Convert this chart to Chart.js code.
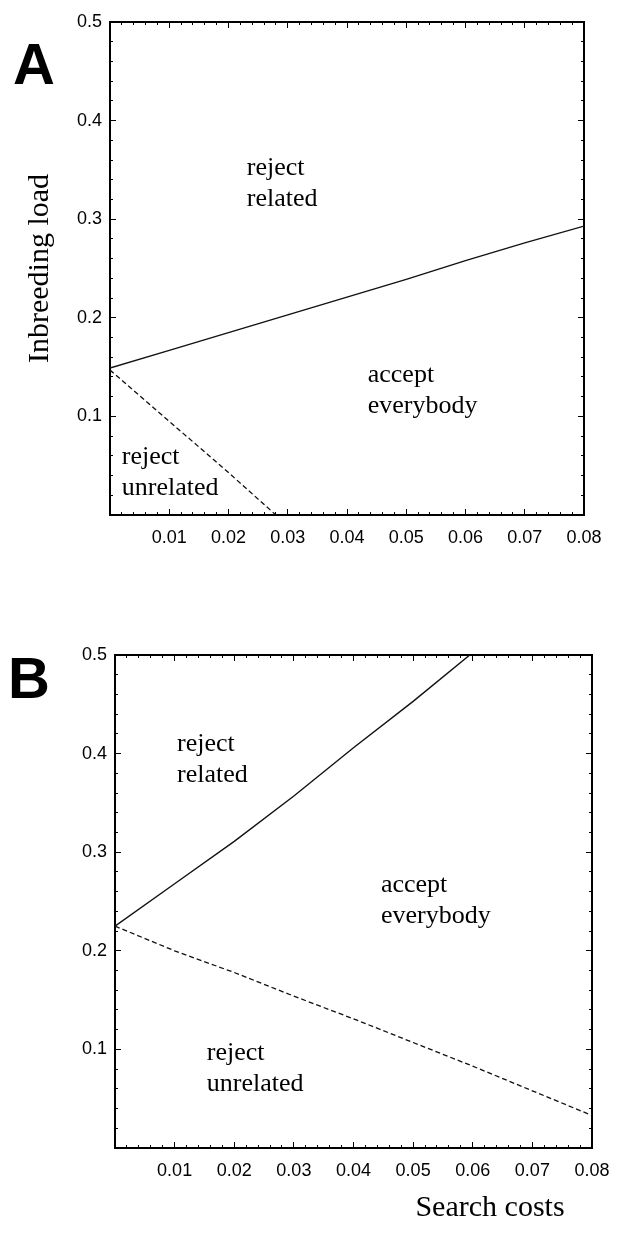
<!DOCTYPE html>
<html>
<head>
<meta charset="utf-8">
<script src="https://cdn.jsdelivr.net/npm/chart.js@4.4.1/dist/chart.umd.min.js"></script>
<style>
  html, body { margin: 0; padding: 0; background: #fff; }
  #page { position: relative; width: 618px; height: 1243px; overflow: hidden; }
  .panel { position: absolute; left: 0; width: 618px; }
  .letter { position: absolute; font: bold 58px "Liberation Sans", Arial, sans-serif; line-height: 1; color: #000; }
</style>
</head>
<body>
<div id="page">
  <div class="panel" style="top:0;height:600px"><canvas id="chartA"></canvas></div>
  <div class="panel" style="top:600px;height:643px"><canvas id="chartB"></canvas></div>
  <div class="letter" style="left:13px;top:35px">A</div>
  <div class="letter" style="left:8px;top:649px">B</div>
</div>
<script>
// search costs on the x axis
const searchCosts = [0, 0.01, 0.02, 0.03, 0.04, 0.05, 0.06, 0.07, 0.08];

// panel A: boundary reject related / accept everybody
const loadA_upper = [0.149, 0.167, 0.185, 0.203, 0.221, 0.239, 0.258, 0.276, 0.293];
// panel A: boundary reject unrelated / accept everybody
const costsA_lower = [0, 0.01, 0.02, 0.028];
const loadA_lower = [0.147, 0.095, 0.043, 0];

// panel B
const costsB_upper = [0, 0.01, 0.02, 0.03, 0.04, 0.05, 0.0595];
const loadB_upper = [0.225, 0.268, 0.311, 0.357, 0.406, 0.453, 0.5];
const loadB_lower = [0.225, 0.200, 0.178, 0.154, 0.131, 0.107, 0.083, 0.058, 0.033];

// tick labels
const xTickValues = [0.01, 0.02, 0.03, 0.04, 0.05, 0.06, 0.07, 0.08];
const yTickValues = [0.1, 0.2, 0.3, 0.4, 0.5];

const toPoints = (xs, ys) => xs.map((x, i) => ({ x: x, y: ys[i] }));

// region labels, drawn at data positions
const regionLabels = {
  A: [
    { lines: ['reject', 'related'], x: 0.0231, y: 0.352 },
    { lines: ['accept', 'everybody'], x: 0.0435, y: 0.142 },
    { lines: ['reject', 'unrelated'], x: 0.0020, y: 0.059 }
  ],
  B: [
    { lines: ['reject', 'related'], x: 0.0104, y: 0.410 },
    { lines: ['accept', 'everybody'], x: 0.0446, y: 0.267 },
    { lines: ['reject', 'unrelated'], x: 0.0154, y: 0.096 }
  ]
};

const regionLabelsPlugin = {
  id: 'regionLabels',
  afterDatasetsDraw(chart, args, opts) {
    const { ctx, scales } = chart;
    ctx.save();
    ctx.fillStyle = '#000';
    ctx.font = '26px "Liberation Serif", "Times New Roman", serif';
    ctx.textAlign = 'left';
    ctx.textBaseline = 'middle';
    (opts.items || []).forEach(item => {
      const px = scales.x.getPixelForValue(item.x);
      const py = scales.y.getPixelForValue(item.y);
      item.lines.forEach((t, i) => ctx.fillText(t, px, py + i * 31));
    });
    // axis caption placed off-centre, as in the original figure
    (opts.extra || []).forEach(e => {
      ctx.font = '30px "Liberation Serif", "Times New Roman", serif';
      ctx.textAlign = 'center';
      ctx.fillText(e.text, e.px, e.py);
    });
    ctx.restore();
  }
};

const tickFont = { family: 'Liberation Sans', size: 18 };

// no extra room for overhanging tick labels, the frame is placed by hand
const noOverhang = s => { s.paddingLeft = 0; s.paddingRight = 0; s.paddingTop = 0; s.paddingBottom = 0; };

function frameScales(box, yTitle) {
  const major = { drawOnChartArea: false, tickLength: -6, color: '#000', lineWidth: 1 };
  const minor = { drawOnChartArea: false, tickLength: -3, color: '#000', lineWidth: 1 };
  const frame = { display: true, color: '#000', width: 2 };
  const noFrame = { display: false };
  const xRange = { type: 'linear', min: 0, max: 0.08 };
  const yRange = { type: 'linear', min: 0, max: 0.5 };
  return {
    x: {
      ...xRange, position: 'bottom', weight: 1,
      afterBuildTicks: s => { s.ticks = xTickValues.map(v => ({ value: v })); },
      afterFit: s => { s.height = box.bottom; noOverhang(s); },
      ticks: { font: tickFont, color: '#000', padding: 18, autoSkip: false, maxRotation: 0,
               callback: v => v.toFixed(2) },
      grid: major, border: frame
    },
    xMinor: {
      ...xRange, position: 'bottom', weight: 0,
      afterFit: s => { s.height = 0; noOverhang(s); },
      ticks: { display: false, stepSize: 0.002, autoSkip: false },
      grid: minor, border: noFrame
    },
    xTop: {
      ...xRange, position: 'top', weight: 1,
      afterBuildTicks: s => { s.ticks = xTickValues.map(v => ({ value: v })); },
      afterFit: s => { s.height = 0; noOverhang(s); },
      ticks: { display: false },
      grid: major, border: frame
    },
    xTopMinor: {
      ...xRange, position: 'top', weight: 0,
      afterFit: s => { s.height = 0; noOverhang(s); },
      ticks: { display: false, stepSize: 0.002, autoSkip: false },
      grid: minor, border: noFrame
    },
    y: {
      ...yRange, position: 'left', weight: 1,
      afterBuildTicks: s => { s.ticks = yTickValues.map(v => ({ value: v })); },
      afterFit: s => { s.width = box.left; noOverhang(s); },
      ticks: { font: tickFont, color: '#000', padding: 14, autoSkip: false,
               callback: v => v.toFixed(1) },
      grid: major, border: frame,
      title: {
        display: !!yTitle, text: yTitle || '', color: '#000',
        font: { family: 'Liberation Serif', size: 30 },
        padding: { top: 22, bottom: 0 }
      }
    },
    yMinor: {
      ...yRange, position: 'left', weight: 0,
      afterFit: s => { s.width = 0; noOverhang(s); },
      ticks: { display: false, stepSize: 0.02, autoSkip: false },
      grid: minor, border: noFrame
    },
    yRight: {
      ...yRange, position: 'right', weight: 1,
      afterBuildTicks: s => { s.ticks = yTickValues.map(v => ({ value: v })); },
      afterFit: s => { s.width = 0; noOverhang(s); },
      ticks: { display: false },
      grid: major, border: frame
    },
    yRightMinor: {
      ...yRange, position: 'right', weight: 0,
      afterFit: s => { s.width = 0; noOverhang(s); },
      ticks: { display: false, stepSize: 0.02, autoSkip: false },
      grid: minor, border: noFrame
    }
  };
}

function makePanel(id, datasets, box, yTitle, labels, extra) {
  return new Chart(document.getElementById(id), {
    type: 'scatter',
    data: { datasets: datasets },
    options: {
      responsive: true,
      maintainAspectRatio: false,
      animation: false,
      layout: { padding: { top: box.top, right: box.right, left: 0, bottom: 0 } },
      plugins: {
        legend: { display: false },
        tooltip: { enabled: false },
        regionLabels: { items: labels, extra: extra }
      },
      scales: frameScales(box, yTitle)
    },
    plugins: [regionLabelsPlugin]
  });
}

const solidLine = { showLine: true, pointRadius: 0, borderColor: '#111', borderWidth: 1.4, fill: false };
const dashedLine = { showLine: true, pointRadius: 0, borderColor: '#111', borderWidth: 1.3, borderDash: [5, 3], fill: false };

makePanel('chartA', [
  { ...solidLine, label: 'reject related boundary', data: toPoints(searchCosts, loadA_upper) },
  { ...dashedLine, label: 'reject unrelated boundary', data: toPoints(costsA_lower, loadA_lower) }
], { top: 22, right: 34, left: 110, bottom: 85 }, 'Inbreeding load', regionLabels.A, []);

makePanel('chartB', [
  { ...solidLine, label: 'reject related boundary', data: toPoints(costsB_upper, loadB_upper) },
  { ...dashedLine, label: 'reject unrelated boundary', data: toPoints(searchCosts, loadB_lower) }
], { top: 55, right: 26, left: 115, bottom: 95 }, null, regionLabels.B,
  [{ text: 'Search costs', px: 490, py: 608 }]);
</script>
</body>
</html>
